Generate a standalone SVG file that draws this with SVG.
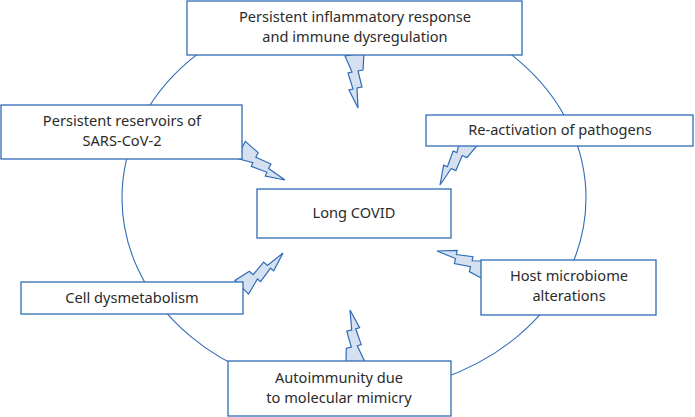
<svg xmlns="http://www.w3.org/2000/svg" width="695" height="417" viewBox="0 0 695 417">
<defs>
<style>
.box{fill:#fff;stroke:#2f6cb5;stroke-width:1.3}
.t{font-family:"Noto Sans","Liberation Sans",sans-serif;font-size:14.6px;fill:#2b2b2b;text-anchor:middle}
.bolt{fill:#d5e0f0;stroke:#2f6cb5;stroke-width:1.2;stroke-linejoin:miter}
.ring{fill:none;stroke:#2f6cb5;stroke-width:1.1}
</style>
<polygon id="bolt" points="-13,-52 6,-55 5,-38 0,-37 4,-21 -1,-20 0,0 -9,-18 -5,-19 -10,-35 -6,-36"/>
</defs>
<rect width="695" height="417" fill="#fff"/>
<g id="connectors">
<ellipse class="ring" cx="354" cy="198" rx="232" ry="195"/>
<use href="#bolt" class="bolt" transform="translate(358,108) rotate(0)"/>
<use href="#bolt" class="bolt" transform="translate(285,180) rotate(-52)"/>
<use href="#bolt" class="bolt" transform="translate(440,185) rotate(37)"/>
<use href="#bolt" class="bolt" transform="translate(283,253) rotate(-126)"/>
<use href="#bolt" class="bolt" transform="translate(437,251) rotate(115)"/>
<use href="#bolt" class="bolt" transform="translate(350,310) rotate(178)"/>
</g>
<g id="n-inflammatory">
<rect class="box" x="187" y="1" width="335" height="54"/>
<text class="t" x="355" y="22">Persistent inflammatory response</text>
<text class="t" x="355" y="42">and immune dysregulation</text>
</g>
<g id="n-reservoirs">
<rect class="box" x="1" y="105" width="241" height="54"/>
<text class="t" x="122" y="126">Persistent reservoirs of</text>
<text class="t" x="122" y="146">SARS-CoV-2</text>
</g>
<g id="n-reactivation">
<rect class="box" x="426" y="115" width="267" height="31"/>
<text class="t" x="560" y="135">Re-activation of pathogens</text>
</g>
<g id="n-longcovid">
<rect class="box" x="257" y="189" width="194" height="49"/>
<text class="t" x="354" y="218">Long COVID</text>
</g>
<g id="n-dysmetabolism">
<rect class="box" x="21" y="282" width="222" height="32"/>
<text class="t" x="132" y="303">Cell dysmetabolism</text>
</g>
<g id="n-microbiome">
<rect class="box" x="481" y="260" width="175" height="55"/>
<text class="t" x="569" y="281">Host microbiome</text>
<text class="t" x="569" y="301">alterations</text>
</g>
<g id="n-autoimmunity">
<rect class="box" x="228" y="361" width="223" height="55"/>
<text class="t" x="339" y="383">Autoimmunity due</text>
<text class="t" x="339" y="403">to molecular mimicry</text>
</g>
</svg>
